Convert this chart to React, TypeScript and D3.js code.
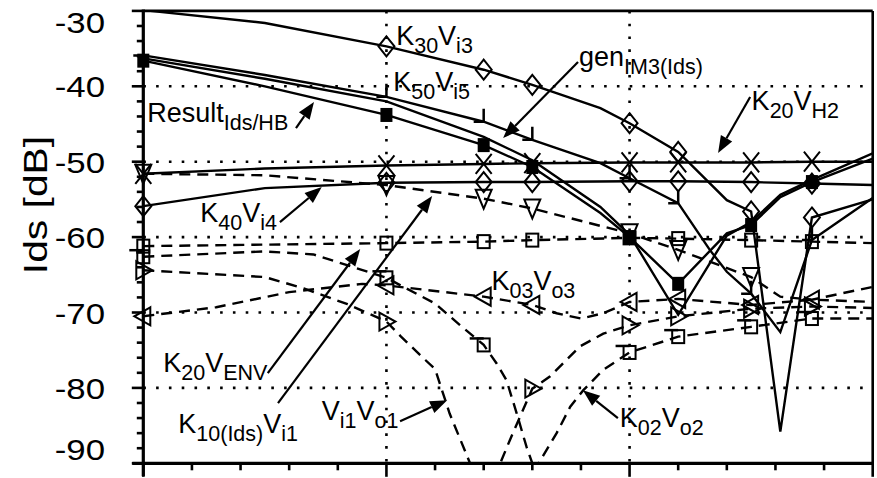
import React from "react";
import * as d3 from "d3";

type Pt = [number, number];

// Axis setup
const X_DOMAIN: [number, number] = [0, 15];
const Y_DOMAIN: [number, number] = [-90, -30];
const Y_TICK_LABELS = [-30, -40, -50, -60, -70, -80, -90];
const Y_GRID = [-40, -50, -60, -70, -80];
const X_GRID = [5, 10];
const X_TICKS = d3.range(0, 16);
const Y_MINOR = d3.range(-90, -29, 2);

// Solid curves
const K30_VI3: Pt[] = [[0, -29.9], [2.5, -31.6], [5, -34.7], [7, -37.8], [8, -39.8], [9.4, -42.9], [10, -44.9], [11, -48.7], [12, -55.1], [12.5, -56.6], [13.1, -85.8], [13.75, -57.4], [15, -55.0]];
const K50_VI5: Pt[] = [[0, -35.9], [2.5, -38.5], [5, -41.4], [7, -44.7], [8, -47.1], [9.4, -50.2], [10, -52.2], [11, -55.5], [11.65, -61.7], [12, -64.6], [12.5, -67.5], [13.1, -72.6], [13.75, -60.4], [15, -54.8]];
const GEN_IM3: Pt[] = [[0, -36.3], [2.5, -39.0], [5, -42.0], [7, -46.7], [8, -49.8], [9.4, -56.0], [10, -59.7], [11, -70.3], [12, -59.8], [12.5, -58.0], [13.1, -54.4], [13.75, -52.4], [15, -48.9]];
const RESULT_HB: Pt[] = [[0, -36.6], [2.5, -40.0], [5, -43.8], [7, -47.8], [8, -50.7], [9.4, -56.8], [10, -60.0], [11, -66.2], [12, -59.5], [12.5, -58.4], [13.1, -54.7], [13.75, -52.7], [15, -49.6]];
const K20_VH2: Pt[] = [[0, -51.6], [2.5, -50.9], [5, -50.5], [7, -50.3], [8, -50.2], [10, -50.1], [11, -50.1], [12.5, -50.1], [13.75, -50.0], [15, -50.0]];
const K40_VI4: Pt[] = [[0, -55.9], [2.5, -53.5], [5, -52.8], [7, -52.7], [8, -52.7], [10, -52.6], [11, -52.6], [12.5, -52.7], [13.75, -52.9], [15, -53.1]];

// Dashed curves
const K10_VI1: Pt[] = [[0, -51.6], [2.5, -51.8], [5, -53.1], [7, -54.9], [8, -56.2], [10, -59.5], [11, -61.7], [12.5, -65.3], [13.1, -67.9], [13.75, -68.3], [15, -66.6]];
const K20_VENV: Pt[] = [[0, -61.2], [2.5, -61.0], [5, -60.8], [7, -60.6], [8, -60.4], [10, -60.1], [11, -60.2], [12.5, -60.4], [13.75, -60.6], [15, -60.8]];
const K02_VO2: Pt[] = [[0, -62.6], [2.5, -61.9], [3.5, -62.3], [5, -65.4], [5.35, -66.6], [6, -68.8], [6.5, -71.6], [7, -74.3], [7.27, -76.8], [7.47, -79.0], [7.68, -83.4], [7.88, -87.8], [8.0, -90.0], [8.06, -96.0], [8.13, -90.0], [8.5, -86.0], [8.78, -82.5], [9.05, -80.3], [9.46, -77.6], [10, -75.3], [11, -73.2], [12.5, -71.9], [13.75, -70.8], [15, -70.8]];
const VI1_VO1: Pt[] = [[0, -64.4], [2.5, -65.3], [3.3, -66.8], [4.2, -68.9], [5, -71.2], [5.3, -73.2], [5.8, -76.3], [6.0, -77.5], [6.3, -83.4], [6.72, -90.0], [7.03, -100.0], [7.34, -90.0], [7.54, -86.9], [8, -80.1], [8.36, -78.5], [8.98, -74.5], [9.46, -72.8], [10, -71.7], [11, -70.5], [12.5, -69.5], [13.75, -69.2], [15, -69.4]];
const K03_VO3: Pt[] = [[0, -70.5], [1.5, -69.3], [3, -67.3], [4.5, -66.2], [5, -66.4], [7, -67.9], [8, -69.0], [8.5, -70.1], [9, -70.8], [9.46, -70.1], [10, -68.6], [11, -68.2], [12.5, -69.0], [13.75, -68.3], [15, -68.6]];

type MarkerKind = "diamond" | "triDown" | "triRight" | "triLeft" | "square" | "squareTick" | "filled" | "cross" | "corner" | "none";

const SERIES: { data: Pt[]; dashed: boolean; marker: MarkerKind; at: number[] }[] = [
  { data: K30_VI3, dashed: false, marker: "diamond", at: [5, 7, 8, 10, 11, 12.5, 13.75] },
  { data: K50_VI5, dashed: false, marker: "corner", at: [0, 5, 7, 8, 10, 11, 12.5, 13.75] },
  { data: GEN_IM3, dashed: false, marker: "none", at: [] },
  { data: RESULT_HB, dashed: false, marker: "filled", at: [0, 5, 7, 8, 10, 11, 12.5, 13.75] },
  { data: K20_VH2, dashed: false, marker: "cross", at: [0, 5, 7, 8, 10, 11, 12.5, 13.75] },
  { data: K40_VI4, dashed: false, marker: "diamond", at: [0, 5, 7, 8, 10, 11, 12.5, 13.75] },
  { data: K10_VI1, dashed: true, marker: "triDown", at: [0, 5, 7, 8, 10, 11, 12.5] },
  { data: K20_VENV, dashed: true, marker: "square", at: [0, 5, 7, 8, 10, 11, 12.5, 13.75] },
  { data: K02_VO2, dashed: true, marker: "squareTick", at: [0, 5, 7, 10, 11, 12.5, 13.75] },
  { data: VI1_VO1, dashed: true, marker: "triRight", at: [0, 5, 8, 10, 11, 12.5, 13.75] },
  { data: K03_VO3, dashed: true, marker: "triLeft", at: [0, 5, 7, 8, 10, 11, 12.5, 13.75] },
];

// Curve labels: [text, isSubscript] pieces, anchored in data units
const LABELS: { parts: [string, boolean][]; at: Pt }[] = [
  { parts: [["K", false], ["30", true], ["V", false], ["i3", true]], at: [5.2, -34.52] },
  { parts: [["K", false], ["50", true], ["V", false], ["i5", true]], at: [5.14, -40.6] },
  { parts: [["Result", false], ["Ids/HB", true]], at: [0.08, -44.7] },
  { parts: [["gen", false], ["IM3(Ids)", true]], at: [8.96, -37.31] },
  { parts: [["K", false], ["20", true], ["V", false], ["H2", true]], at: [12.51, -43.15] },
  { parts: [["K", false], ["40", true], ["V", false], ["i4", true]], at: [1.17, -57.97] },
  { parts: [["K", false], ["20", true], ["V", false], ["ENV", true]], at: [0.41, -77.91] },
  { parts: [["K", false], ["10(Ids)", true], ["V", false], ["i1", true]], at: [0.72, -86.0] },
  { parts: [["K", false], ["03", true], ["V", false], ["o3", true]], at: [7.16, -67.03] },
  { parts: [["V", false], ["i1", true], ["V", false], ["o1", true]], at: [3.67, -84.28] },
  { parts: [["K", false], ["02", true], ["V", false], ["o2", true]], at: [9.8, -85.2] },
];

// Leader arrows: tail -> head, data units
const ARROWS: { from: Pt; to: Pt }[] = [
  { from: [3.14, -45.54], to: [3.51, -42.09] },
  { from: [8.94, -36.78], to: [7.4, -46.86] },
  { from: [12.48, -41.42], to: [11.82, -48.85] },
  { from: [2.81, -58.01], to: [3.67, -53.37] },
  { from: [2.56, -78.04], to: [4.46, -61.59] },
  { from: [2.77, -82.02], to: [5.94, -54.56] },
  { from: [5.28, -84.41], to: [6.25, -81.63] },
  { from: [9.76, -84.01], to: [9.04, -80.3] },
];

const FONT = "'Liberation Sans', Arial, Helvetica, sans-serif";
const LEFT = 143.3, RIGHT = 872.7, TOP = 10.9, BOTTOM = 463.3;

const x = d3.scaleLinear().domain(X_DOMAIN).range([LEFT, RIGHT]);
const y = d3.scaleLinear().domain(Y_DOMAIN).range([BOTTOM, TOP]);
const lineGen = d3.line<Pt>().x((d) => x(d[0])).y((d) => y(d[1]));

function valueAt(data: Pt[], xv: number): number {
  const hit = data.find((d) => Math.abs(d[0] - xv) < 1e-9);
  if (hit) return hit[1];
  const i = d3.bisector((d: Pt) => d[0]).left(data, xv);
  const a = data[Math.max(0, i - 1)], b = data[Math.min(data.length - 1, i)];
  if (a[0] === b[0]) return a[1];
  return a[1] + ((b[1] - a[1]) * (xv - a[0])) / (b[0] - a[0]);
}

function Marker({ kind, cx, cy }: { kind: MarkerKind; cx: number; cy: number }) {
  const s = { fill: "none", stroke: "#000", strokeWidth: 2 };
  switch (kind) {
    case "diamond":
      return <path d={`M${cx},${cy - 10}L${cx + 8},${cy}L${cx},${cy + 10}L${cx - 8},${cy}Z`} {...s} />;
    case "triDown":
      return <path d={`M${cx - 8},${cy - 9}L${cx + 8},${cy - 9}L${cx},${cy + 10}Z`} {...s} />;
    case "triRight":
      return <path d={`M${cx - 7},${cy - 9}L${cx + 9},${cy}L${cx - 7},${cy + 9}Z`} {...s} />;
    case "triLeft":
      return <path d={`M${cx + 7},${cy - 9}L${cx - 9},${cy}L${cx + 7},${cy + 9}Z`} {...s} />;
    case "square":
      return <rect x={cx - 6} y={cy - 6.5} width={12} height={13} {...s} />;
    case "squareTick":
      return (
        <g>
          <rect x={cx - 6} y={cy - 6.5} width={12} height={13} {...s} />
          <line x1={cx - 14} y1={cy - 6.5} x2={cx} y2={cy - 6.5} {...s} strokeWidth={2.5} />
        </g>
      );
    case "filled":
      return <rect x={cx - 6} y={cy - 7} width={12} height={14} fill="#000" />;
    case "cross":
      return <path d={`M${cx - 8},${cy - 10}L${cx + 8},${cy + 10}M${cx + 8},${cy - 10}L${cx - 8},${cy + 10}`} {...s} />;
    case "corner":
      return <path d={`M${cx},${cy - 13}L${cx},${cy}L${cx - 10},${cy}`} {...s} strokeWidth={2.5} />;
    default:
      return null;
  }
}

function Arrow({ from, to }: { from: Pt; to: Pt }) {
  const x1 = x(from[0]), y1 = y(from[1]), x2 = x(to[0]), y2 = y(to[1]);
  const ang = Math.atan2(y2 - y1, x2 - x1);
  const len = 17, half = 6.5;
  const bx = x2 - len * Math.cos(ang), by = y2 - len * Math.sin(ang);
  const px = -Math.sin(ang) * half, py = Math.cos(ang) * half;
  return (
    <g>
      <line x1={x1} y1={y1} x2={bx} y2={by} stroke="#000" strokeWidth={2.2} />
      <path d={`M${x2},${y2}L${bx + px},${by + py}L${bx - px},${by - py}Z`} fill="#000" />
    </g>
  );
}

function Label({ parts, at }: { parts: [string, boolean][]; at: Pt }) {
  let shifted = false;
  return (
    <text x={x(at[0])} y={y(at[1])} fontFamily={FONT} fontSize={27} fill="#000">
      {parts.map(([t, sub], i) => {
        let dy = 0;
        if (sub && !shifted) { dy = 8; shifted = true; }
        else if (!sub && shifted) { dy = -8; shifted = false; }
        return (
          <tspan key={i} dy={dy} fontSize={sub ? 21.5 : 27}>
            {t}
          </tspan>
        );
      })}
    </text>
  );
}

export default function App() {
  const dotted = { stroke: "#000", strokeWidth: 2.6, strokeDasharray: "2.6 10.2", fill: "none" };
  return (
    <svg width={877} height={478} style={{ position: "absolute", left: 0, top: 0, background: "#fff" }}>
      <rect x={0} y={0} width={877} height={478} fill="#fff" />
      <defs>
        <clipPath id="plot-area">
          <rect x={LEFT} y={TOP} width={RIGHT - LEFT} height={BOTTOM - TOP} />
        </clipPath>
      </defs>

      {/* dotted grid */}
      {Y_GRID.map((v) => (
        <line key={`gy${v}`} x1={LEFT} x2={RIGHT} y1={y(v)} y2={y(v)} {...dotted} />
      ))}
      {X_GRID.map((v) => (
        <line key={`gx${v}`} x1={x(v)} x2={x(v)} y1={TOP} y2={BOTTOM} {...dotted} />
      ))}

      {/* curves */}
      <g clipPath="url(#plot-area)">
        {SERIES.map((s, i) => (
          <path
            key={`s${i}`}
            d={lineGen(s.data) || ""}
            fill="none"
            stroke="#000"
            strokeWidth={2.4}
            strokeDasharray={s.dashed ? "11 7" : undefined}
            strokeLinejoin="miter"
          />
        ))}
      </g>

      {/* markers */}
      {SERIES.map((s, i) =>
        s.at.map((xv) => (
          <Marker key={`m${i}-${xv}`} kind={s.marker} cx={x(xv)} cy={y(valueAt(s.data, xv))} />
        ))
      )}

      {/* frame and axes */}
      <line x1={LEFT} x2={RIGHT} y1={TOP} y2={TOP} stroke="#000" strokeWidth={2.8} />
      <line x1={RIGHT} x2={RIGHT} y1={TOP} y2={BOTTOM} stroke="#000" strokeWidth={2.6} />
      <line x1={LEFT} x2={LEFT} y1={TOP - 1.4} y2={BOTTOM + 13} stroke="#000" strokeWidth={3.2} />
      <line x1={LEFT - 11} x2={RIGHT + 1.3} y1={BOTTOM} y2={BOTTOM} stroke="#000" strokeWidth={3.2} />
      {Y_MINOR.map((v) => (
        <line key={`ty${v}`} x1={v % 10 === 0 ? LEFT - 11.5 : LEFT - 6.5} x2={LEFT} y1={y(v)} y2={y(v)} stroke="#000" strokeWidth={2.6} />
      ))}
      {X_TICKS.map((v) => (
        <line key={`tx${v}`} x1={x(v)} x2={x(v)} y1={BOTTOM} y2={BOTTOM + (v % 5 === 0 ? 13.5 : 7)} stroke="#000" strokeWidth={2.6} />
      ))}

      {/* y tick labels */}
      {Y_TICK_LABELS.map((v, i) => {
        const off = i === 0 ? 22.5 : i === Y_TICK_LABELS.length - 1 ? -3.3 : 11;
        return (
          <text
            key={`yl${v}`}
            transform={`translate(105,${y(v) + off}) scale(1.16,1)`}
            textAnchor="end"
            fontFamily={FONT}
            fontSize={30}
            fill="#000"
          >
            {v}
          </text>
        );
      })}

      {/* y axis title */}
      <text
        transform={`translate(47,205) rotate(-90) scale(1.2,1)`}
        textAnchor="middle"
        fontFamily={FONT}
        fontSize={34}
        fill="#000"
      >
        Ids [dB]
      </text>

      {/* annotations */}
      {ARROWS.map((a, i) => (
        <Arrow key={`a${i}`} from={a.from} to={a.to} />
      ))}
      {LABELS.map((l, i) => (
        <Label key={`l${i}`} parts={l.parts} at={l.at} />
      ))}
    </svg>
  );
}
